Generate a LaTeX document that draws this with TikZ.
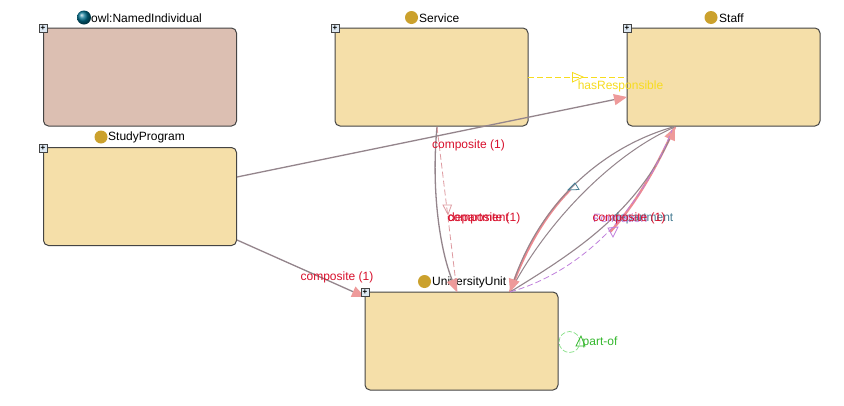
\documentclass[tikz,border=0pt]{standalone}
\usepackage{fontspec}
\setmainfont{Liberation Sans}
\usetikzlibrary{arrows.meta}
\definecolor{boxfill}{HTML}{F5DFA9}
\definecolor{indfill}{HTML}{DCBFB2}
\definecolor{boxline}{HTML}{444444}
\definecolor{conline}{HTML}{94858C}
\definecolor{tipfill}{HTML}{EE9A9A}
\definecolor{glow}{HTML}{EE8A90}
\definecolor{compred}{HTML}{D8102C}
\definecolor{dred}{HTML}{DE9AA0}
\definecolor{yel}{HTML}{F7DC1E}
\definecolor{grn}{HTML}{35B82E}
\definecolor{pur}{HTML}{C080DC}
\definecolor{teal2}{HTML}{4A7F95}
\definecolor{dot}{HTML}{CBA12D}
\definecolor{plusfill}{HTML}{DDE8F2}
\tikzset{
  x=1pt,y=-1pt,
  cls/.style={draw=boxline,line width=1pt,fill=boxfill,rounded corners=5pt,minimum width=193pt,minimum height=98pt,inner sep=0pt,outer sep=0pt},
  ttl/.style={font=\fontsize{12}{14}\selectfont,inner sep=0pt,anchor=west,text=black},
  lbl/.style={font=\fontsize{12}{14}\selectfont,inner sep=0pt,text=compred},
  comp/.style={draw=conline,line width=1.3pt,-{Triangle[length=13pt,width=11pt,fill=tipfill,color=tipfill]}},
  plain/.style={draw=conline,line width=1pt},
  halo/.style={draw=glow,line width=2.4pt},
  hollow/.style={dash pattern=on 6pt off 3pt,line width=.8pt},
  tri/.style={line width=.8pt},
  dotn/.style={circle,fill=dot,minimum size=13pt,inner sep=0pt},
  plus/.style={draw=boxline,fill=plusfill,line width=.5pt,minimum size=8pt,inner sep=0pt,font=\fontsize{8}{8}\selectfont\bfseries}
}
\begin{document}
\begin{tikzpicture}
\useasboundingbox (0,0) rectangle (844,405);
\fill[white] (0,0) rectangle (844,405);
\node[cls,fill=indfill] (ind) at (140,77) {};
\node[cls] (svc) at (431.5,77) {};
\node[cls] (stf) at (723.5,77) {};
\node[cls] (stp) at (140,196.5) {};
\node[cls] (uni) at (461.5,341) {};
\node[plus] (p1) at (43,28) {+};
\node[plus] (p2) at (335,28) {+};
\node[plus] (p3) at (627,28) {+};
\node[plus] (p4) at (43,148) {+};
% titles
\shade[ball color=teal!60!blue!80!green] (84,17.5) circle (7pt);
\node[ttl] (t1) at (91,18) {owl:NamedIndividual};
\node[dotn] (d2) at (411.5,17.5) {};
\node[ttl] (t2) at (419,18) {Service};
\node[dotn] (d3) at (711,17.5) {};
\node[ttl] (t3) at (719,18) {Staff};
\node[dotn] (d4) at (101,137) {};
\node[ttl] (t4) at (108,137) {StudyProgram};
\node[dotn] (d5) at (424.5,281.5) {};
\node[ttl] (t5) at (432,282) {UniversityUnit};
% anchor coordinates
\coordinate (stpa) at (237,177);
\coordinate (stfa) at (627,97);
\coordinate (stpb) at (237,240);
\coordinate (unia) at (365,297);
\coordinate (svca) at (437,127);
\coordinate (unib) at (457,292);
\coordinate (svcb) at (528,77.5);
\coordinate (stfb) at (627,77.5);
\coordinate (stfc) at (675,127);
\coordinate (unic) at (510,292);
% straight composites
\draw[comp] (stpa) -- (stfa);
\draw[comp] (stpb) -- (unia);
% Service - UU
\draw[comp] (svca) .. controls (431,190) and (440,250) .. (unib);
\draw[dred,hollow] (svca) -- (unib);
\draw[dred,tri] (443,205) -- (451.5,205) -- (448,214.5) -- cycle;
% Service - Staff
\draw[yel,hollow,line width=1pt] (svcb) -- (stfb);
\draw[yel,tri] (572.5,72.5) -- (583,77) -- (572.5,82) -- cycle;
% Staff - UU
\draw[halo] (570,190) .. controls (545,215) and (525,250) .. (unic);
\draw[halo] (610,232) .. controls (635,205) and (655,170) .. (stfc);
\draw[plain] (stfc) .. controls (620,150) and (550,215) .. (unic);
\draw[comp,line width=1.1pt] (673,127) .. controls (600,148) and (540,205) .. (unic);
\draw[teal2,tri] (568,190) -- (575,183) -- (579,189.5) -- cycle;
\draw[comp,line width=1.1pt] (unic) .. controls (570,255) and (635,215) .. (stfc);
\draw[pur,hollow] (unic) .. controls (570,275) and (635,225) .. (672,130);
\draw[pur,tri] (608,228) -- (618,227) -- (613,237) -- cycle;
% loop
\draw[green!60!gray!60!white,dash pattern=on 5pt off 2pt,line width=.7pt] (569.5,342) circle (10.5pt);
\draw[grn,tri] (576,346) -- (581,336) -- (585,346) -- cycle;
\node[plus] (p5) at (365,292) {+};
% labels
\node[lbl] (l1) at (468.5,145) {composite (1)};
\node[lbl] (l2) at (484,218) {composite (1)};
\node[lbl,anchor=west] (l3) at (448,218) {department};
\node[lbl] (l4) at (337,277) {composite (1)};
\node[lbl,text=yel] (l5) at (620.5,86) {hasResponsible};
\node[lbl,text=grn] (l6) at (600,342) {part-of};
\node[lbl,text=teal2,anchor=east] (l7) at (673.5,218) {department};
\node[lbl,text=pur,anchor=west] (l8) at (593,218) {Formation};
\node[lbl] (l9) at (629,218) {composite (1)};
\end{tikzpicture}
\end{document}
